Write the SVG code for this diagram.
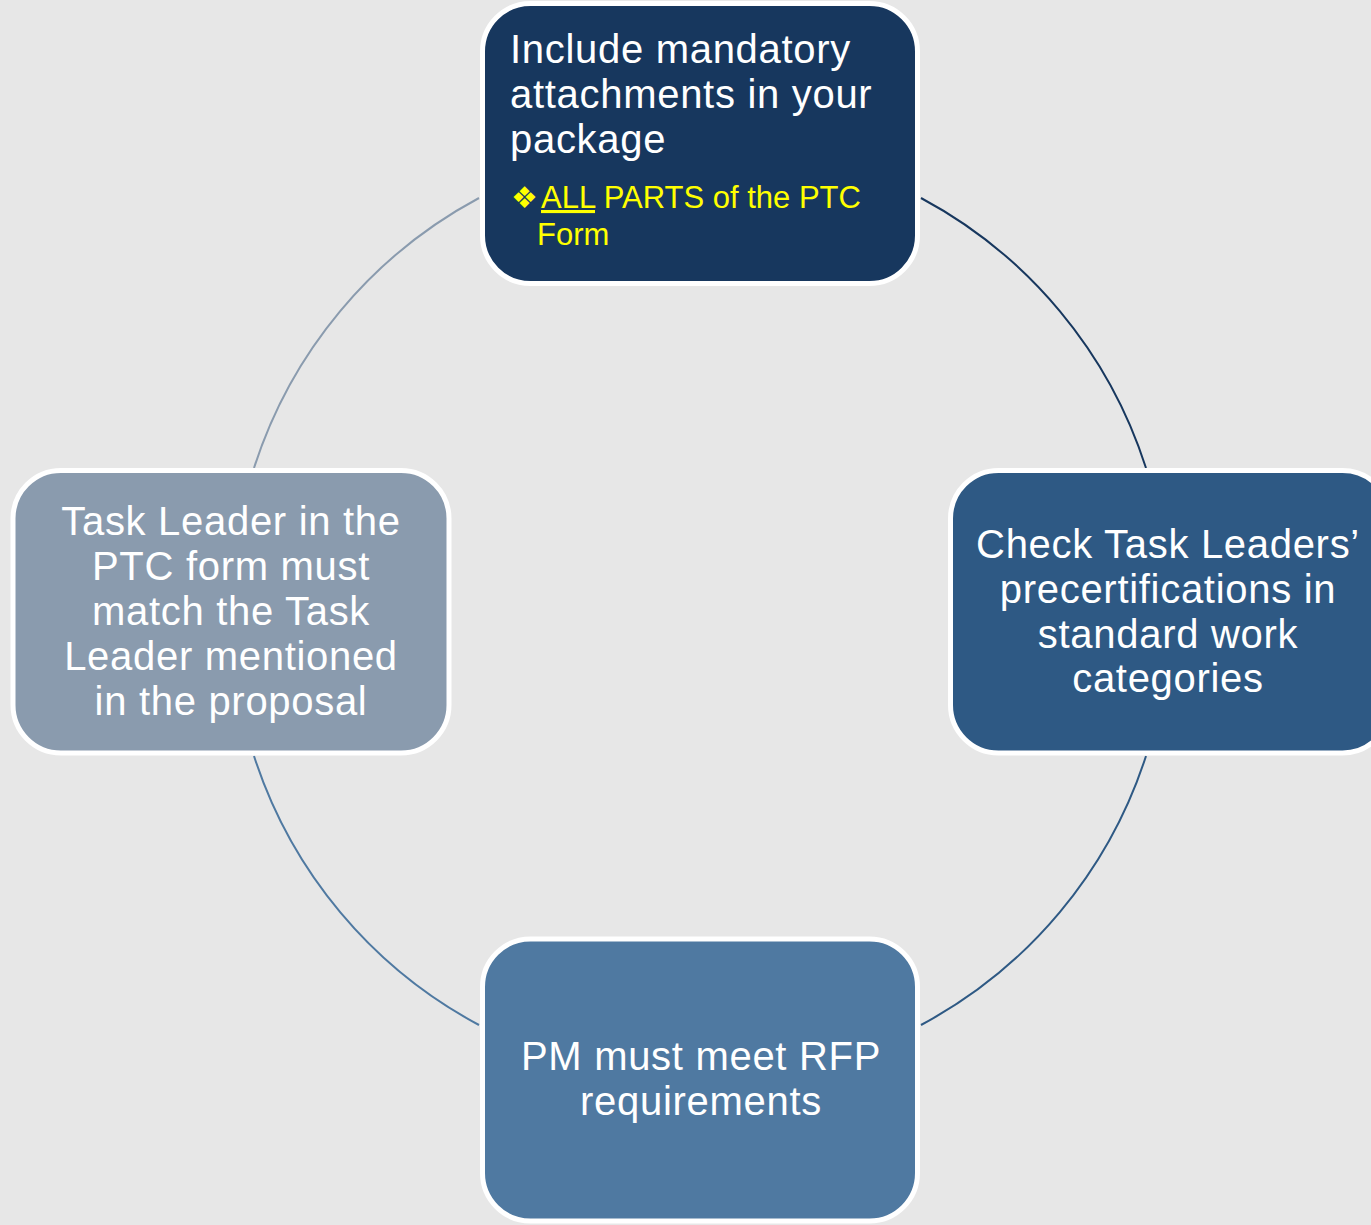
<svg xmlns="http://www.w3.org/2000/svg" width="1371" height="1225" viewBox="0 0 1371 1225">
<style>
.node{stroke:#ffffff;stroke-width:5}
.arc{fill:none;stroke-width:2}
.t{font-family:"Liberation Sans",Arial,sans-serif;font-size:40px;fill:#ffffff;letter-spacing:0.7px}
.c{text-anchor:middle}
.y{font-family:"Liberation Sans",Arial,sans-serif;font-size:31px;fill:#ffff00}
</style>
<rect x="0" y="0" width="1371" height="1225" fill="#e7e7e7"/>
<g id="connectors">
<path class="arc" stroke="#17375e" d="M 921 198 A 468 468 0 0 1 1146 468"/>
<path class="arc" stroke="#2e5984" d="M 1146 756 A 468 468 0 0 1 921 1025"/>
<path class="arc" stroke="#4f79a1" d="M 479 1025 A 468 468 0 0 1 254 756"/>
<path class="arc" stroke="#8a9bae" d="M 254 468 A 468 468 0 0 1 479 198"/>
</g>
<g id="node-top">
<rect class="node" x="482.5" y="3.5" width="435" height="280" rx="48" fill="#17375e"/>
<text class="t" x="510" y="63">Include mandatory</text>
<text class="t" x="510" y="108">attachments in your</text>
<text class="t" x="510" y="153">package</text>
<text class="y" x="511" y="208"><tspan font-family="DejaVu Sans" font-size="30">❖</tspan><tspan x="541" text-decoration="underline">ALL</tspan> PARTS of the PTC</text>
<text class="y" x="537" y="245">Form</text>
</g>
<g id="node-right">
<rect class="node" x="950.5" y="470.5" width="440" height="282.5" rx="48" fill="#2e5984"/>
<text class="t c" x="1168" y="558">Check Task Leaders’</text>
<text class="t c" x="1168" y="603">precertifications in</text>
<text class="t c" x="1168" y="648">standard work</text>
<text class="t c" x="1168" y="692">categories</text>
</g>
<g id="node-bottom">
<rect class="node" x="482.5" y="939" width="435" height="282" rx="48" fill="#4f79a1"/>
<text class="t c" x="701" y="1070">PM must meet RFP</text>
<text class="t c" x="701" y="1115">requirements</text>
</g>
<g id="node-left">
<rect class="node" x="13" y="470.5" width="436" height="282.5" rx="48" fill="#8a9bae"/>
<text class="t c" x="231" y="535">Task Leader in the</text>
<text class="t c" x="231" y="580">PTC form must</text>
<text class="t c" x="231" y="625">match the Task</text>
<text class="t c" x="231" y="670">Leader mentioned</text>
<text class="t c" x="231" y="715">in the proposal</text>
</g>
</svg>
